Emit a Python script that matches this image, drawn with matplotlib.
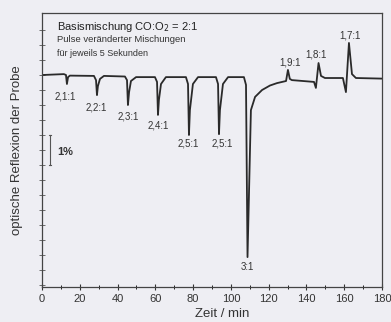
import matplotlib
matplotlib.use("Agg")
from matplotlib import pyplot as plt
from matplotlib.ticker import MultipleLocator
import numpy as np

plt.rcParams['font.family'] = ['Liberation Sans', 'DejaVu Sans']

# Messkurve: Zeit (min) und optische Reflexion (%)
zeit = [0, 11.6, 12.7, 13.2, 13.8, 14.8, 27.5, 28.6, 29.1, 29.6, 30.7, 32.8,
        43.9, 45.0, 45.5, 46.1, 47.1, 49.8, 59.8, 60.9, 61.4, 61.9, 63.0, 65.6,
        76.2, 77.3, 77.8, 78.3, 79.9, 82.6, 92.1, 93.2, 93.7, 94.2, 95.8, 98.5,
        106.9, 108.0, 108.8, 109.5, 110.6, 112.8, 116.5, 120.7, 124.4, 129.2,
        130.2, 131.2, 132.3, 144.0, 145.0, 146.4, 147.7, 149.8, 159.3, 160.9,
        162.5, 164.1, 166.2, 180]
reflexion = [0, 0.03, 0, -0.3, -0.07, -0.02, -0.03, -0.17, -0.67, -0.37, -0.13, -0.03,
             -0.05, -0.17, -1.0, -0.57, -0.2, -0.07, -0.07, -0.23, -1.33, -0.83, -0.3, -0.07,
             -0.07, -0.3, -2.0, -1.17, -0.3, -0.07, -0.07, -0.3, -1.97, -1.17, -0.3, -0.07,
             -0.07, -0.33, -6.07, -4.17, -1.17, -0.73, -0.5, -0.35, -0.27, -0.2,
             0.17, -0.13, -0.17, -0.23, -0.43, 0.4, -0.03, -0.1, -0.1, -0.57,
             1.07, 0.03, -0.1, -0.12]

# Beschriftungen der Pulse
puls_labels = ["2,1:1", "2,2:1", "2,3:1", "2,4:1", "2,5:1", "2,5:1", "3:1", "1,9:1", "1,8:1", "1,7:1"]
puls_x = [12.2, 28.6, 45.5, 61.4, 77.3, 95.3, 108.5, 131.3, 145.0, 163.0]
puls_y = [-0.7, -1.07, -1.37, -1.67, -2.27, -2.27, -6.4, 0.43, 0.7, 1.33]

bg = "#eeeef3"
fig = plt.figure(figsize=(3.91, 3.22), dpi=100, facecolor=bg)
ax = fig.add_axes([0.1074, 0.1087, 0.8696, 0.8509], facecolor=bg)

ax.plot(zeit, reflexion, color="#2a2a2a", lw=1.3)

for lab, x, y in zip(puls_labels, puls_x, puls_y):
    ax.text(x, y, lab, fontsize=7, ha="center", va="center", color="#333333")

# Textblock oben links
ax.text(7.9, 1.6, "Basismischung CO:O$_2$ = 2:1", fontsize=8, va="center", color="#222222")
ax.text(7.9, 1.17, "Pulse veränderter Mischungen", fontsize=6.8, va="center", color="#333333")
ax.text(7.9, 0.73, "für jeweils 5 Sekunden", fontsize=6.5, va="center", color="#333333")

# Skalenbalken 1%
ax.plot([4.2, 4.2], [-2, -3], color="#555555", lw=0.8)
ax.plot([3.6, 4.8], [-2, -2], color="#555555", lw=0.8)
ax.plot([3.6, 4.8], [-3, -3], color="#555555", lw=0.8)
ax.text(8.3, -2.57, "1%", fontsize=8, fontweight="bold", va="center", color="#333333")

ax.set_xlim(0, 180)
ax.set_ylim(-7.067, 2.067)
ax.xaxis.set_major_locator(MultipleLocator(20))
ax.xaxis.set_minor_locator(MultipleLocator(10))
ax.set_yticks(np.arange(-7.0, 2.0, 0.5))
ax.set_yticklabels([])
ax.tick_params(axis="x", direction="inout", length=4, width=0.8, labelsize=8,
               colors="#333333", pad=3)
ax.tick_params(axis="x", which="minor", direction="inout", length=3, width=0.6)
ax.tick_params(axis="y", direction="inout", length=4, width=0.6, colors="#555555")

for s in ax.spines.values():
    s.set_color("#444444")
    s.set_linewidth(0.9)

ax.set_xlabel("Zeit / min", fontsize=9.5, color="#333333")
ax.xaxis.set_label_coords(0.53, -0.075)
ax.set_ylabel("optische Reflexion der Probe", fontsize=9.5, color="#333333")
ax.yaxis.set_label_coords(-0.055, 0.5)

plt.savefig("out.png", dpi=100, facecolor=bg)
